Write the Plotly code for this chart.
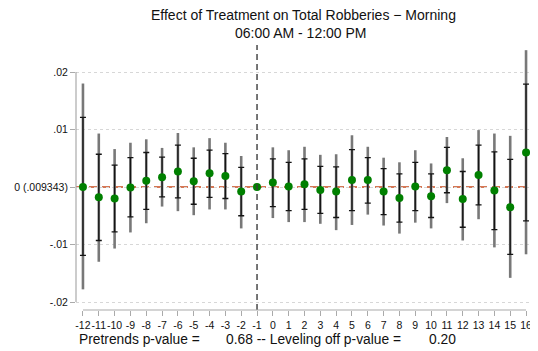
import plotly.graph_objects as go

# ---- data ----
periods = list(range(-12, 17))
coef = [0.0000, -0.0018, -0.0020, -0.0001, 0.0011, 0.0017, 0.0027, 0.0010, 0.0024, 0.0019, -0.0008,
        0.0000,
        0.0008, 0.0001, 0.0005, -0.0005, -0.0008, 0.0012, 0.0012, -0.0008, -0.0019, 0.0001, -0.0016,
        0.0029, -0.0021, 0.0021, -0.0006, -0.0035, 0.0060]
ci90_hi = [0.0121, 0.0057, 0.0038, 0.0051, 0.0060, 0.0052, 0.0073, 0.0050, 0.0064, 0.0058, 0.0034,
           0.0000,
           0.0049, 0.0043, 0.0049, 0.0036, 0.0035, 0.0065, 0.0051, 0.0032, 0.0023, 0.0043, 0.0023,
           0.0069, 0.0027, 0.0073, 0.0061, 0.0048, 0.0179]
ci90_lo = [-0.0119, -0.0093, -0.0078, -0.0052, -0.0039, -0.0017, -0.0019, -0.0030, -0.0018, -0.0020, -0.0050,
           0.0000,
           -0.0034, -0.0041, -0.0039, -0.0046, -0.0053, -0.0041, -0.0028, -0.0048, -0.0061, -0.0041, -0.0053,
           -0.0010, -0.0070, -0.0031, -0.0074, -0.0117, -0.0059]
ci95_hi = [0.0180, 0.0093, 0.0066, 0.0077, 0.0083, 0.0068, 0.0094, 0.0069, 0.0085, 0.0077, 0.0054,
           0.0000,
           0.0069, 0.0064, 0.0070, 0.0056, 0.0057, 0.0090, 0.0070, 0.0051, 0.0043, 0.0064, 0.0041,
           0.0087, 0.0050, 0.0099, 0.0093, 0.0089, 0.0238]
ci95_lo = [-0.0178, -0.0130, -0.0107, -0.0079, -0.0063, -0.0034, -0.0042, -0.0049, -0.0039, -0.0039, -0.0072,
           0.0000,
           -0.0054, -0.0061, -0.0061, -0.0064, -0.0075, -0.0066, -0.0048, -0.0067, -0.0081, -0.0062, -0.0072,
           -0.0028, -0.0093, -0.0056, -0.0105, -0.0158, -0.0117]
ytick_vals = [-0.02, -0.01, 0, 0.01, 0.02]
ytick_text = ["-.02", "-.01", "0 (.009343)", ".01", ".02"]
title = "Effect of Treatment on Total Robberies \u2212 Morning"
subtitle = "06:00 AM - 12:00 PM"
pre_label = "Pretrends p-value ="
pre_p = "0.68 -- Leveling off p-value ="
lev_p = "0.20"
ref_period = -1

FONT = "Liberation Sans, Arial, sans-serif"
# page body has an 8px margin; size the figure so the plot lands where the reference has it
OFF = 8
W, H = 538 - OFF, 351 - OFF
PL, PR, PT, PB = 76, 533, 45, 310          # plot-area edges in window pixels
L, R, T, B = PL - OFF, W - (PR - OFF), PT - OFF, H - (PB - OFF)
pw, ph = PR - PL, PB - PT


def px_ann(text, px, py, anchor, size):
    return dict(text=text, x=(px - PL) / pw, y=(PB - py) / ph, xref="paper", yref="paper",
                xanchor=anchor, yanchor="middle", showarrow=False,
                font=dict(family=FONT, size=size, color="#111"))


fig = go.Figure()
# 95% CI (gray, no caps)
fig.add_trace(go.Scatter(
    x=periods, y=coef, mode="markers", marker=dict(size=1, opacity=0),
    error_y=dict(type="data", symmetric=False,
                 array=[h - c for h, c in zip(ci95_hi, coef)],
                 arrayminus=[c - l for c, l in zip(coef, ci95_lo)],
                 color="rgb(120,120,120)", thickness=2.6, width=0),
    hoverinfo="skip", showlegend=False))
# 90% CI (black, capped) + point estimates
fig.add_trace(go.Scatter(
    x=periods, y=coef, mode="markers",
    marker=dict(size=8, color="rgb(0,128,0)"),
    error_y=dict(type="data", symmetric=False,
                 array=[h - c for h, c in zip(ci90_hi, coef)],
                 arrayminus=[c - l for c, l in zip(coef, ci90_lo)],
                 color="rgb(20,20,20)", thickness=1.3, width=3),
    showlegend=False))

shapes = [
    dict(type="line", xref="paper", x0=0, x1=1, yref="y", y0=0, y1=0,
         line=dict(color="rgb(200,75,30)", width=1.6, dash="8px,5px"), layer="below"),
    dict(type="line", xref="x", x0=ref_period, x1=ref_period, yref="paper", y0=0, y1=1,
         line=dict(color="rgb(60,60,60)", width=1.4, dash="6px,4px"), layer="above"),
    dict(type="line", xref="paper", x0=0, x1=0, yref="y", y0=min(ytick_vals), y1=max(ytick_vals),
         line=dict(color="rgb(170,170,170)", width=1.2)),
    dict(type="line", xref="x", x0=min(periods), x1=max(periods), yref="paper", y0=0, y1=0,
         line=dict(color="rgb(170,170,170)", width=1.2)),
]

annotations = [
    px_ann(title, 303, 15, "center", 14),
    px_ann(subtitle, 301, 33, "center", 14),
    px_ann(pre_label, 77, 339, "left", 13.8),
    px_ann(pre_p, 224, 339, "left", 13.8),
    px_ann(lev_p, 427, 339, "left", 13.8),
]

fig.update_layout(
    width=W, height=H,
    margin=dict(l=L, r=R, t=T, b=B, pad=0, autoexpand=False),
    paper_bgcolor="white", plot_bgcolor="white",
    font=dict(family=FONT, size=10.5, color="#111"),
    shapes=shapes, annotations=annotations,
    xaxis=dict(range=[-12.44, 16.44], tickmode="array", tickvals=periods,
               ticktext=[str(p) for p in periods], ticks="outside", ticklen=5,
               tickangle=0, automargin=False,
               tickcolor="rgb(170,170,170)", tickwidth=1, showgrid=False, zeroline=False,
               showline=False, tickfont=dict(size=10.5), fixedrange=True),
    yaxis=dict(range=[-0.02139, 0.02470], tickmode="array", tickvals=ytick_vals,
               ticktext=ytick_text, ticks="outside", ticklen=5, automargin=False,
               tickcolor="rgb(170,170,170)", tickwidth=1, showgrid=True,
               gridcolor="rgb(215,215,215)", griddash="dot", gridwidth=1,
               zeroline=False, showline=False, tickfont=dict(size=10.5), fixedrange=True),
)

fig.write_html("out.html")
